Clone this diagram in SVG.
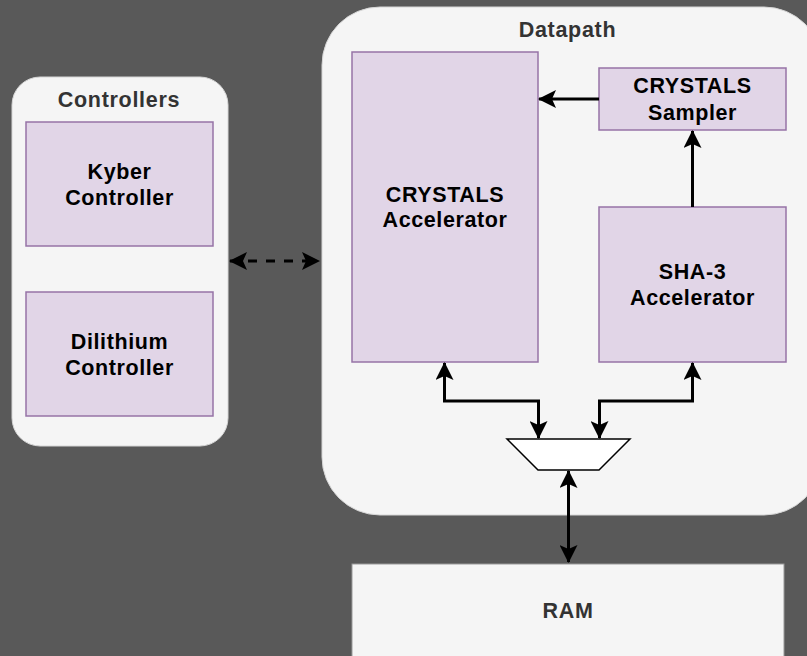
<svg xmlns="http://www.w3.org/2000/svg" width="807" height="656" viewBox="0 0 807 656">
  <defs>
    <style>
      .bg { fill: #595959; }
      .container { fill: #f5f5f5; stroke: #d6d6d6; stroke-width: 1; }
      .block { fill: #e1d5e7; stroke: #9673a6; stroke-width: 1.5; }
      .ram { fill: #f5f5f5; stroke: #999999; stroke-width: 1; }
      .mux { fill: #ffffff; stroke: #000000; stroke-width: 1.5; stroke-linejoin: miter; }
      .title { font-family: "Liberation Sans", Arial, sans-serif; font-weight: bold; font-size: 21.5px; letter-spacing: 0.7px; fill: #333333; text-anchor: middle; }
      .label { font-family: "Liberation Sans", Arial, sans-serif; font-weight: bold; font-size: 21.5px; letter-spacing: 0.6px; fill: #000000; text-anchor: middle; }
      .wire { fill: none; stroke: #000000; stroke-width: 3; stroke-linejoin: miter; }
      .dashed { stroke-dasharray: 9 9; }
    </style>
    <marker id="arrow" viewBox="0 0 18 18" refX="17" refY="9" markerWidth="18" markerHeight="18" markerUnits="userSpaceOnUse" orient="auto-start-reverse">
      <path d="M0,0 L18,9 L0,18 L4,9 Z" fill="#000000"/>
    </marker>
  </defs>

  <rect class="bg" x="0" y="0" width="807" height="656"/>

  <!-- Controllers group -->
  <g id="controllers">
    <rect class="container" x="12" y="77" width="216" height="369" rx="28" ry="28"/>
    <text class="title" x="119" y="106.5">Controllers</text>
  </g>
  <g id="kyber-controller">
    <rect class="block" x="26" y="122" width="187" height="124"/>
    <text class="label" x="119.5" y="178.5">Kyber</text>
    <text class="label" x="119.5" y="204.5">Controller</text>
  </g>
  <g id="dilithium-controller">
    <rect class="block" x="26" y="292" width="187" height="124"/>
    <text class="label" x="119.5" y="348.5">Dilithium</text>
    <text class="label" x="119.5" y="374.5">Controller</text>
  </g>

  <!-- Datapath group -->
  <g id="datapath">
    <rect class="container" x="322" y="7" width="500" height="508" rx="58" ry="58"/>
    <text class="title" x="567.5" y="37">Datapath</text>
  </g>
  <g id="crystals-accelerator">
    <rect class="block" x="352" y="52" width="186" height="310"/>
    <text class="label" x="445" y="201.5">CRYSTALS</text>
    <text class="label" x="445" y="227">Accelerator</text>
  </g>
  <g id="crystals-sampler">
    <rect class="block" x="599" y="68" width="187" height="62"/>
    <text class="label" x="692.5" y="93">CRYSTALS</text>
    <text class="label" x="692.5" y="119.5">Sampler</text>
  </g>
  <g id="sha3-accelerator">
    <rect class="block" x="599" y="207" width="187" height="155"/>
    <text class="label" x="692.5" y="279">SHA-3</text>
    <text class="label" x="692.5" y="305">Accelerator</text>
  </g>
  <g id="mux">
    <polygon class="mux" points="507,439 630,439 599,470 538,470"/>
  </g>
  <g id="ram">
    <rect class="ram" x="352" y="564" width="432" height="96"/>
    <text class="title" x="568" y="617.5">RAM</text>
  </g>

  <!-- Connectors -->
  <g id="connectors">
    <line class="wire dashed" x1="230" y1="261" x2="319" y2="261" marker-start="url(#arrow)" marker-end="url(#arrow)"/>
    <line class="wire" x1="599" y1="99" x2="539" y2="99" marker-end="url(#arrow)"/>
    <line class="wire" x1="692.5" y1="207" x2="692.5" y2="131" marker-end="url(#arrow)"/>
    <polyline class="wire" points="444.5,363 444.5,401 538.5,401 538.5,438" marker-start="url(#arrow)" marker-end="url(#arrow)"/>
    <polyline class="wire" points="692.5,363 692.5,401 599.5,401 599.5,438" marker-start="url(#arrow)" marker-end="url(#arrow)"/>
    <line class="wire" x1="568.5" y1="471" x2="568.5" y2="562" marker-start="url(#arrow)" marker-end="url(#arrow)"/>
  </g>
</svg>
